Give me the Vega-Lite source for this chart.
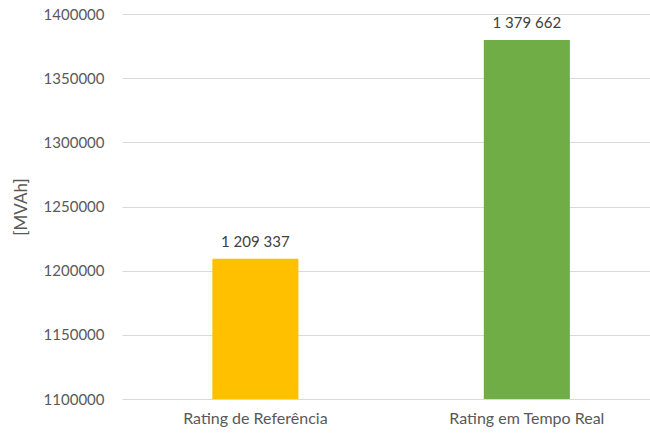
{
  "$schema": "https://vega.github.io/schema/vega-lite/v6.json",
  "width": 528,
  "height": 385,
  "autosize": {"type": "none"},
  "padding": {"left": 122, "top": 14, "right": 0, "bottom": 36},
  "background": "white",
  "config": {
    "view": {"stroke": null},
    "font": "Lato",
    "locale": {"number": {"decimal": ",", "thousands": " ", "grouping": [3], "currency": ["", ""]}}
  },
  "data": {
    "values": [
      {"categoria": "Rating de Referência", "valor": 1209337},
      {"categoria": "Rating em Tempo Real", "valor": 1379662}
    ]
  },
  "encoding": {
    "x": {
      "field": "categoria",
      "type": "nominal",
      "sort": null,
      "scale": {"paddingInner": 0.683, "paddingOuter": 0.314, "align": 0.53},
      "axis": {
        "title": null,
        "labelAngle": 0,
        "domain": false,
        "ticks": false,
        "labelPadding": 11,
        "labelFontSize": 16,
        "labelColor": "#595959",
        "labelFont": "Lato"
      }
    },
    "y": {
      "field": "valor",
      "type": "quantitative",
      "scale": {"domain": [1100000, 1400000], "zero": false, "nice": false},
      "axis": {
        "title": "[MVAh]",
        "titleFontSize": 17,
        "titleFontWeight": "normal",
        "titleColor": "#595959",
        "titleFont": "Lato",
        "titlePadding": 13,
        "format": "d",
        "values": [1100000, 1150000, 1200000, 1250000, 1300000, 1350000, 1400000],
        "domain": false,
        "ticks": false,
        "labelPadding": 18,
        "labelFontSize": 15,
        "labelColor": "#595959",
        "labelFont": "Lato",
        "gridColor": "#D9D9D9",
        "gridWidth": 1.2
      }
    }
  },
  "layer": [
    {
      "mark": {"type": "bar", "clip": true},
      "encoding": {
        "color": {
          "field": "categoria",
          "type": "nominal",
          "scale": {"domain": ["Rating de Referência", "Rating em Tempo Real"], "range": ["#FFC000", "#70AD47"]},
          "legend": null
        }
      }
    },
    {
      "mark": {"type": "text", "baseline": "bottom", "dy": -9, "fontSize": 15, "color": "#404040", "font": "Lato"},
      "encoding": {
        "text": {"field": "valor", "type": "quantitative", "format": ",d"}
      }
    }
  ]
}
